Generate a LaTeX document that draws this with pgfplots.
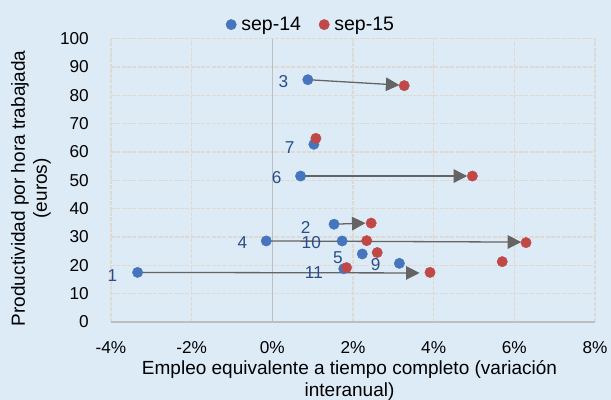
\documentclass[border=0pt]{standalone}
\usepackage{pgfplots}
\pgfplotsset{compat=1.18}
\usepackage{fontspec}
\setmainfont{Liberation Sans}
\usetikzlibrary{arrows.meta}
\definecolor{bg}{RGB}{221,235,247}
\definecolor{gridc}{RGB}{222,217,211}
\definecolor{blu}{RGB}{70,117,190}
\definecolor{rd}{RGB}{192,72,70}
\definecolor{lab}{RGB}{41,77,139}
\definecolor{arr}{RGB}{100,100,100}
\definecolor{zer}{RGB}{190,190,190}
\newcommand{\fticks}{\fontsize{17.2bp}{20bp}\selectfont}
\newcommand{\ftitle}{\fontsize{19bp}{22bp}\selectfont}
\newcommand{\fleg}{\fontsize{19.5bp}{22bp}\selectfont}
\begin{document}
\begin{tikzpicture}
\fill[bg] (0,0) rectangle (611bp,400bp);
\useasboundingbox (0,0) rectangle (611bp,400bp);
\begin{axis}[
  at={(111bp,78bp)}, anchor=south west,
  scale only axis, width=484bp, height=283.4bp,
  xmin=-4, xmax=8, ymin=0, ymax=100,
  xtick={-4,-2,0,2,4,6,8},
  xticklabels={-4\%,-2\%,0\%,2\%,4\%,6\%,8\%},
  ytick={0,10,...,100},
  /pgf/number format/assume math mode=true,
  axis line style={draw=none},
  tick style={draw=none},
  grid=major,
  major grid style={draw=gridc, line width=1.5bp, dash pattern=on 4bp off 1.3bp},
  xticklabel style={font=\fticks, inner sep=0pt, anchor=north, yshift=-19bp},
  yticklabel style={font=\fticks, inner sep=0pt, anchor=east, xshift=-22bp},
  xlabel={Empleo equivalente a tiempo completo (variación\\interanual)},
  xlabel style={at={(axis description cs:0.4928,0)}, anchor=north, yshift=-38.5bp, inner sep=0pt, align=center, font=\ftitle},
  ylabel={Productividad por hora trabajada\\(euros)},
  ylabel style={at={(axis description cs:-0.1653,0.4718)}, anchor=center, inner sep=0pt, align=center, font=\ftitle},
  legend style={at={(axis description cs:0.5,1)}, anchor=center, xshift=-42bp, yshift=14bp,
    draw=none, fill=none, font=\fleg, legend columns=2,
    /tikz/every odd column/.append style={column sep=3bp},
    /tikz/every even column/.append style={column sep=16bp}},
  legend cell align=left,
  clip=false,
]
% zero axis lines
\addplot[zer, line width=1.2bp, forget plot] coordinates {(0,0) (0,100)};
\addplot[zer, line width=1.2bp, forget plot] coordinates {(-4,0) (8,0)};
% arrows (start at sep-14, tip before sep-15)
\addplot[arr, line width=1.3bp, -{Triangle[length=13.5bp,width=13.5bp]}, forget plot] coordinates {(-3.34,17.5) (3.65,17.3)};
\addplot[arr, line width=1.3bp, -{Triangle[length=13.5bp,width=13.5bp]}, forget plot] coordinates {(1.53,34.5) (2.31,34.9)};
\addplot[arr, line width=1.3bp, -{Triangle[length=13.5bp,width=13.5bp]}, forget plot] coordinates {(0.88,85.5) (3.15,83.6)};
\addplot[arr, line width=1.3bp, -{Triangle[length=13.5bp,width=13.5bp]}, forget plot] coordinates {(-0.15,28.6) (6.17,28.2)};
\addplot[arr, line width=1.3bp, -{Triangle[length=13.5bp,width=13.5bp]}, forget plot] coordinates {(0.70,51.5) (4.83,51.5)};
% sep-14
\addplot[only marks, mark=*, mark size=5.2bp, blu, mark options={draw=blu, fill=blu}] coordinates {
(-3.34,17.5) (1.53,34.5) (0.88,85.5) (-0.15,28.6) (2.23,24.0) (0.70,51.5) (1.03,62.7) (3.15,20.7) (1.73,28.6) (1.77,18.8)};
\addlegendentry{sep-14}
% sep-15
\addplot[only marks, mark=*, mark size=5.2bp, rd, mark options={draw=rd, fill=rd}] coordinates {
(3.91,17.5) (2.45,34.9) (3.27,83.4) (6.29,28.0) (2.60,24.5) (4.96,51.5) (1.08,64.8) (5.70,21.3) (2.34,28.7) (1.84,19.2)};
\addlegendentry{sep-15}
% point labels
\begin{scope}[every node/.style={font=\fticks, text=lab, inner sep=0pt, anchor=center}]
\node at (axis cs:-3.965,16.5) {1};
\node at (axis cs:0.825,33.5) {2};
\node at (axis cs:0.274,84.7) {3};
\node at (axis cs:-0.743,27.9) {4};
\node at (axis cs:1.625,22.7) {5};
\node at (axis cs:0.107,50.9) {6};
\node at (axis cs:0.431,61.5) {7};
\node at (axis cs:2.561,20.2) {9};
\node at (axis cs:0.966,27.9) {10};
\node at (axis cs:1.031,17.6) {11};
\end{scope}
\end{axis}
\end{tikzpicture}
\end{document}
